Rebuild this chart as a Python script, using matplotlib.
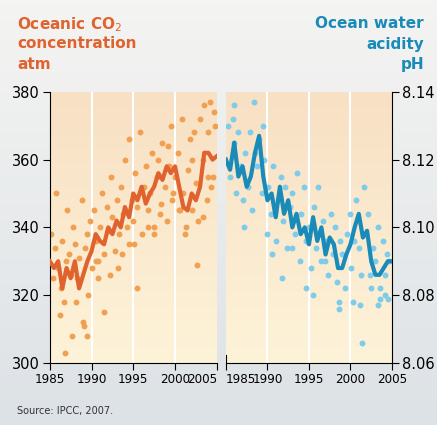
import numpy as np
import matplotlib.pyplot as plt
from matplotlib.colors import LinearSegmentedColormap

# smoothed curves
co2_years = [1985, 1985.5, 1986, 1986.5, 1987, 1987.5, 1988, 1988.5, 1989, 1989.5,
             1990, 1990.5, 1991, 1991.5, 1992, 1992.5, 1993, 1993.5, 1994, 1994.5,
             1995, 1995.5, 1996, 1996.5, 1997, 1997.5, 1998, 1998.5, 1999, 1999.5,
             2000, 2000.5, 2001, 2001.5, 2002, 2002.5, 2003, 2003.5, 2004, 2004.5, 2005]
co2_line = [330, 328, 330, 322, 328, 325, 330, 322, 326, 330,
            333, 338, 336, 335, 340, 338, 342, 340, 346, 343,
            350, 348, 352, 347, 350, 352, 356, 354, 358, 356,
            358, 352, 346, 345, 350, 348, 352, 362, 362, 360, 361]
ph_line = [8.120, 8.117, 8.125, 8.115, 8.118, 8.112, 8.115, 8.122, 8.127, 8.115,
           8.108, 8.110, 8.103, 8.112, 8.104, 8.108, 8.100, 8.104, 8.098, 8.100,
           8.095, 8.103, 8.096, 8.100, 8.092, 8.097, 8.095, 8.088, 8.088, 8.092,
           8.095, 8.100, 8.104, 8.097, 8.099, 8.090, 8.086, 8.086, 8.088, 8.090, 8.090]

# scatter points
co2_x = [1985.2, 1985.4, 1985.6, 1985.8, 1986.0, 1986.3, 1986.5, 1986.7, 1986.9, 1987.0,
         1987.3, 1987.5, 1987.8, 1988.0, 1988.2, 1988.5, 1988.8, 1989.0, 1989.2, 1989.4,
         1989.6, 1989.8, 1990.0, 1990.3, 1990.5, 1990.8, 1991.0, 1991.2, 1991.5, 1991.8,
         1992.0, 1992.3, 1992.5, 1992.8, 1993.0, 1993.3, 1993.5, 1993.8, 1994.0, 1994.2,
         1994.5, 1994.8, 1995.0, 1995.2, 1995.5, 1995.8, 1996.0, 1996.3, 1996.5, 1996.8,
         1997.0, 1997.3, 1997.5, 1997.8, 1998.0, 1998.3, 1998.5, 1998.8, 1999.0, 1999.3,
         1999.5, 1999.8, 2000.0, 2000.3, 2000.5, 2000.8, 2001.0, 2001.3, 2001.5, 2001.8,
         2002.0, 2002.3, 2002.5, 2002.8, 2003.0, 2003.3, 2003.5, 2003.8, 2004.0, 2004.2,
         2004.5, 2004.8, 1986.8, 1988.1, 1989.1, 1989.5, 1991.5, 1990.5, 1992.2, 1993.7,
         1994.5, 1995.5, 1996.8, 1998.2, 1999.6, 2001.2, 2002.6, 2003.4, 2004.3, 2004.7,
         1986.2, 1987.7, 1990.8, 1993.2, 1995.1, 1997.5, 1999.2, 2000.6, 2002.0, 2003.9]
co2_y = [338, 325, 334, 350, 328, 322, 336, 318, 330, 345,
         332, 326, 340, 335, 325, 331, 348, 312, 334, 338,
         320, 342, 328, 345, 336, 330, 340, 350, 332, 346,
         339, 355, 343, 333, 348, 338, 352, 344, 360, 340,
         366, 348, 342, 356, 346, 368, 338, 352, 358, 345,
         350, 362, 340, 355, 360, 347, 365, 352, 342, 358,
         370, 350, 355, 362, 345, 372, 350, 340, 357, 366,
         345, 368, 353, 342, 372, 360, 376, 348, 368, 377,
         355, 370, 303, 318, 311, 308, 315, 330, 326, 332,
         335, 322, 340, 344, 348, 338, 329, 343, 352, 374,
         314, 308, 325, 328, 335, 338, 364, 345, 360, 355]
ph_x = [1985.3, 1985.5, 1985.8, 1986.0, 1986.2, 1986.5, 1986.8, 1987.0, 1987.3, 1987.6,
        1987.9, 1988.1, 1988.4, 1988.7, 1989.0, 1989.3, 1989.6, 1989.9, 1990.1, 1990.4,
        1990.7, 1991.0, 1991.3, 1991.6, 1991.9, 1992.1, 1992.4, 1992.7, 1993.0, 1993.3,
        1993.6, 1993.9, 1994.1, 1994.4, 1994.7, 1995.0, 1995.3, 1995.6, 1995.9, 1996.1,
        1996.4, 1996.7, 1997.0, 1997.3, 1997.6, 1997.9, 1998.1, 1998.4, 1998.7, 1999.0,
        1999.3, 1999.6, 1999.9, 2000.1, 2000.4, 2000.7, 2001.0, 2001.3, 2001.6, 2001.9,
        2002.1, 2002.4, 2002.7, 2003.0, 2003.3, 2003.6, 2003.9, 2004.1, 2004.4, 2004.7,
        1986.0, 1987.2, 1988.5, 1989.5, 1990.6, 1991.8, 1992.9, 1994.6, 1995.5, 1996.9,
        1998.6, 1998.6, 2001.1, 2001.4, 2003.3, 2003.5, 2004.1, 2004.5, 2000.3, 2002.5]
ph_y = [8.130, 8.115, 8.132, 8.125, 8.110, 8.128, 8.118, 8.108, 8.122, 8.112,
        8.128, 8.105, 8.137, 8.118, 8.126, 8.110, 8.120, 8.098, 8.112, 8.104,
        8.118, 8.096, 8.108, 8.115, 8.102, 8.112, 8.094, 8.106, 8.110, 8.098,
        8.116, 8.090, 8.104, 8.112, 8.096, 8.100, 8.088, 8.106, 8.094, 8.112,
        8.090, 8.102, 8.096, 8.086, 8.104, 8.092, 8.100, 8.084, 8.096, 8.092,
        8.082, 8.098, 8.104, 8.088, 8.096, 8.108, 8.094, 8.086, 8.112, 8.098,
        8.104, 8.086, 8.094, 8.090, 8.100, 8.082, 8.096, 8.086, 8.092, 8.090,
        8.136, 8.100, 8.122, 8.130, 8.092, 8.085, 8.094, 8.082, 8.080, 8.090,
        8.078, 8.076, 8.077, 8.066, 8.077, 8.079, 8.080, 8.079, 8.078, 8.082]

orange = '#e0622f'
orange_pt = '#f0a050'
blue = '#1a8ab8'
blue_pt = '#7ecbea'

fig = plt.figure(figsize=(4.37, 4.25), dpi=100)
bg = fig.add_axes([0, 0, 1, 1])
bg.imshow(np.linspace(0, 1, 100).reshape(-1, 1), aspect='auto', extent=[0, 1, 0, 1],
          cmap=LinearSegmentedColormap.from_list('g', ['#f4f4f2', '#dde2e6']))
bg.axis('off')

panel_cmap = LinearSegmentedColormap.from_list('p', ['#f8e0c4', '#fdf3d8'])
ax1 = fig.add_axes([0.114, 0.146, 0.382, 0.638])
ax2 = fig.add_axes([0.517, 0.146, 0.380, 0.638])

for ax in (ax1, ax2):
    ax.imshow(np.linspace(0, 1, 100).reshape(-1, 1), aspect='auto', cmap=panel_cmap,
              extent=[1985, 2005, 0, 1], transform=ax.get_xaxis_transform(), zorder=0)
    ax.set_xlim(1985, 2005)
    for g in (1990, 1995, 2000):
        ax.axvline(g, color='white', lw=1.5, zorder=1)
    ax.spines['top'].set_visible(False)
    ax.set_xticks([1985, 1990, 1995, 2000, 2005])
    ax.tick_params(labelsize=10.5, length=5, width=0.8, pad=2)
    for lab in ax.get_xticklabels():
        lab.set_fontsize(9.5)
        lab.set_fontstretch('condensed')

ax1.scatter(co2_x, co2_y, s=18, color=orange_pt, zorder=2, lw=0)
ax1.plot(co2_years, co2_line, color=orange, lw=3, zorder=3)
ax1.set_ylim(300, 380)
ax1.set_yticks([300, 320, 340, 360, 380])
ax1.spines['right'].set_visible(False)

ax2.scatter(ph_x, ph_y, s=18, color=blue_pt, zorder=2, lw=0)
ax2.plot(co2_years, ph_line, color=blue, lw=3, zorder=3)
ax2.set_ylim(8.06, 8.14)
ax2.set_yticks([8.06, 8.08, 8.10, 8.12, 8.14])
ax2.set_yticklabels(['8.06', '8.08', '8.10', '8.12', '8.14'])
ax2.yaxis.tick_right()
ax2.spines['left'].set_visible(False)
ax2.axvline(1985, ymax=0.03, color='black', lw=0.8)

# nudge edge labels apart so 2005 | 1985 don't collide
ax1.get_xticklabels()[-1].set_ha('right')
ax2.get_xticklabels()[0].set_ha('left')

fig.text(0.04, 0.965, 'Oceanic CO$_2$', color=orange, fontsize=11, fontweight='bold', va='top')
fig.text(0.04, 0.915, 'concentration', color=orange, fontsize=11, fontweight='bold', va='top')
fig.text(0.04, 0.865, 'atm', color=orange, fontsize=11, fontweight='bold', va='top')
fig.text(0.97, 0.962, 'Ocean water', color=blue, fontsize=11, fontweight='bold', va='top', ha='right')
fig.text(0.97, 0.912, 'acidity', color=blue, fontsize=11, fontweight='bold', va='top', ha='right')
fig.text(0.97, 0.865, 'pH', color=blue, fontsize=11, fontweight='bold', va='top', ha='right')
fig.text(0.04, 0.025, 'Source: IPCC, 2007.', fontsize=7, color='#333333')

fig.savefig('out.png', dpi=100)
